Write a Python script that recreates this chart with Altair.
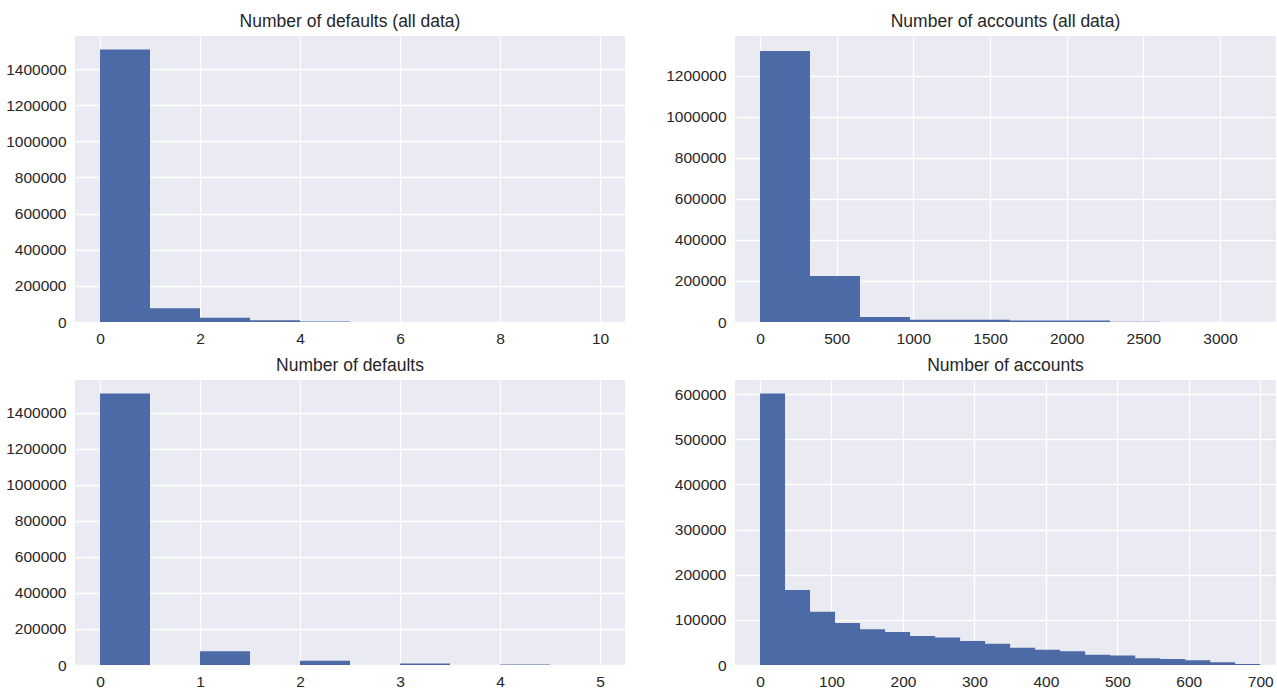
import altair as alt
import pandas as pd

BAR = "#4C6BA6"
BG = "#EAEAF2"
INK = "#262626"
FONT = "Liberation Sans"

# Histogram of defaults per customer, full data: 10 bins over 0..10
defaults_all_edges = [0, 1, 2, 3, 4, 5, 6, 7, 8, 9, 10]
defaults_all_counts = [1508000, 76000, 23000, 9000, 3000, 600, 200, 80, 30, 10]

# Histogram of accounts, full data: 10 bins over 0..3260
accounts_all_edges = [0, 326, 652, 978, 1304, 1630, 1956, 2282, 2608, 2934, 3260]
accounts_all_counts = [1322000, 224000, 24000, 11000, 11000, 7000, 7000, 1500, 300, 50]

# Defaults restricted to 0..5: 10 bins of width 0.5
defaults_edges = [0, 0.5, 1, 1.5, 2, 2.5, 3, 3.5, 4, 4.5, 5]
defaults_counts = [1508000, 0, 76000, 0, 23000, 0, 8000, 0, 3000, 500]

# Accounts restricted to 0..700: 20 bins of width 35
accounts_edges = [0, 35, 70, 105, 140, 175, 210, 245, 280, 315, 350,
                  385, 420, 455, 490, 525, 560, 595, 630, 665, 700]
accounts_counts = [601000, 166000, 118000, 93000, 79000, 73000, 64000, 61000,
                   53000, 47000, 38000, 34000, 30500, 22500, 21000, 15000,
                   13500, 10500, 6000, 2400]


def step_frame(edges, counts):
    # one row per bin edge; the closing edge repeats the last bin's count
    return pd.DataFrame({"edge": edges, "count": list(counts) + [counts[-1]]})


def hist_panel(edges, counts, title, xdom, xticks, ydom, yticks, width, height):
    return alt.Chart(step_frame(edges, counts)).mark_area(
        color=BAR, interpolate="step-after", opacity=1
    ).encode(
        x=alt.X("edge:Q", scale=alt.Scale(domain=xdom, nice=False, zero=False),
                axis=alt.Axis(values=xticks, format="d", title=None)),
        y=alt.Y("count:Q", scale=alt.Scale(domain=ydom, nice=False),
                axis=alt.Axis(values=yticks, format="d", title=None)),
    ).properties(width=width, height=height, title=title)


tl = hist_panel(defaults_all_edges, defaults_all_counts, "Number of defaults (all data)",
                [-0.5, 10.5], [0, 2, 4, 6, 8, 10],
                [0, 1583000], [0, 200000, 400000, 600000, 800000, 1000000, 1200000, 1400000],
                550, 286)
tr = hist_panel(accounts_all_edges, accounts_all_counts, "Number of accounts (all data)",
                [-163, 3365], [0, 500, 1000, 1500, 2000, 2500, 3000],
                [0, 1395000], [0, 200000, 400000, 600000, 800000, 1000000, 1200000],
                541, 286)
bl = hist_panel(defaults_edges, defaults_counts, "Number of defaults",
                [-0.25, 5.25], [0, 1, 2, 3, 4, 5],
                [0, 1583000], [0, 200000, 400000, 600000, 800000, 1000000, 1200000, 1400000],
                550, 285)
br = hist_panel(accounts_edges, accounts_counts, "Number of accounts",
                [-35, 722], [0, 100, 200, 300, 400, 500, 600, 700],
                [0, 631000], [0, 100000, 200000, 300000, 400000, 500000, 600000],
                541, 285)

chart = alt.concat(tl, tr, bl, br, columns=2, spacing={"row": 9, "column": 40}).properties(
    padding={"left": 5, "top": 12, "right": 0, "bottom": 0},
    background="white",
).configure_view(
    fill=BG, stroke=None,
).configure_axis(
    grid=True, gridColor="white", gridWidth=1.3, gridOpacity=1,
    domain=False, ticks=False,
    labelFont=FONT, labelFontSize=15.5, labelColor=INK, labelPadding=9,
    labelFlush=False, labelOverlap=False,
).configure_title(
    font=FONT, fontSize=17.5, fontWeight="normal", color=INK, anchor="middle", offset=6,
)

chart.save("out.html", embed_options={"renderer": "svg", "actions": False})
